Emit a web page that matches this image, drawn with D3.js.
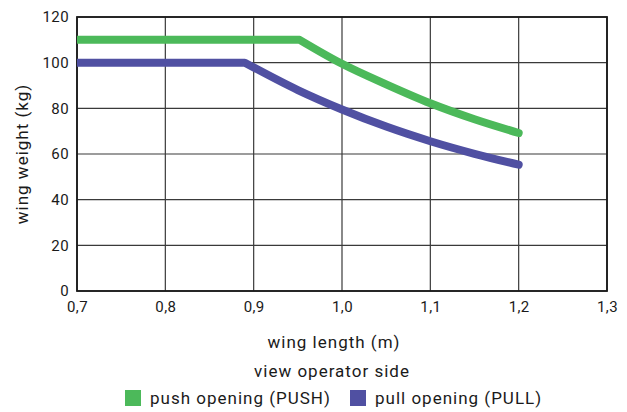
<!DOCTYPE html>
<html>
<head>
<meta charset="utf-8">
<script src="https://cdn.jsdelivr.net/npm/d3@7"></script>
<style>
  body { margin: 0; background: #fff; }
  text { font-family: Roboto, "DejaVu Sans", sans-serif; fill: #1a1a1a; }
  .title { font-size: 17px; letter-spacing: 1px; }
</style>
</head>
<body>
<svg width="627" height="412"></svg>
<script>
// values
var xTicks = [0.7, 0.8, 0.9, 1.0, 1.1, 1.2, 1.3];
var yTicks = [0, 20, 40, 60, 80, 100, 120];

var pushLength = [0.7, 0.952, 1.0, 1.05, 1.1, 1.15, 1.2];
var pushWeight = [110, 110, 99.5, 90.5, 82.2, 75.2, 69.2];

var pullLength = [0.7, 0.89, 0.95, 1.0, 1.05, 1.1, 1.15, 1.2];
var pullWeight = [100, 100, 88, 79.5, 72, 65.6, 60.1, 55.3];

var seriesNames = ["push opening (PUSH)", "pull opening (PULL)"];
var seriesColors = ["#4cb95a", "#5050a2"];

var svg = d3.select("svg"),
    margin = {top: 17, right: 20, bottom: 121, left: 77},
    width = +svg.attr("width") - margin.left - margin.right,
    height = +svg.attr("height") - margin.top - margin.bottom;

var x = d3.scaleLinear().domain([0.7, 1.3]).range([0, width]),
    y = d3.scaleLinear().domain([0, 120]).range([height, 0]);

var g = svg.append("g")
    .attr("transform", "translate(" + margin.left + "," + margin.top + ")");

g.append("clipPath")
    .attr("id", "plot")
  .append("rect")
    .attr("width", width)
    .attr("height", height);

// grid
g.selectAll(".vgrid")
  .data(xTicks)
  .enter().append("line")
    .attr("x1", function(d) { return x(d); })
    .attr("x2", function(d) { return x(d); })
    .attr("y1", 0)
    .attr("y2", height)
    .attr("stroke", "#3a3a3a")
    .attr("stroke-width", 1.2);

g.selectAll(".hgrid")
  .data(yTicks)
  .enter().append("line")
    .attr("x1", 0)
    .attr("x2", width)
    .attr("y1", function(d) { return y(d); })
    .attr("y2", function(d) { return y(d); })
    .attr("stroke", "#3a3a3a")
    .attr("stroke-width", 1.2);

g.append("rect")
    .attr("width", width)
    .attr("height", height)
    .attr("fill", "none")
    .attr("stroke", "#1a1a1a")
    .attr("stroke-width", 1.8);

// axes (labels only)
var fmt = function(d) { return d3.format(".1f")(d).replace(".", ","); };

g.append("g")
    .attr("transform", "translate(0," + height + ")")
    .call(d3.axisBottom(x).tickValues(xTicks).tickFormat(fmt).tickSize(0).tickPadding(10))
    .call(function(a) { a.select(".domain").remove(); })
    .selectAll("text")
      .style("font-size", "15px")
      .style("letter-spacing", "0.4px")
      .attr("fill", "#1a1a1a");

g.append("g")
    .call(d3.axisLeft(y).tickValues(yTicks).tickSize(0).tickPadding(8))
    .call(function(a) { a.select(".domain").remove(); })
    .selectAll("text")
      .style("font-size", "15px")
      .style("letter-spacing", "0.4px")
      .attr("fill", "#1a1a1a");

// lines: straight flat part, smooth curve after the kink
var flat = d3.line()
    .x(function(d) { return x(d[0]); })
    .y(function(d) { return y(d[1]); });
var smooth = d3.line()
    .x(function(d) { return x(d[0]); })
    .y(function(d) { return y(d[1]); })
    .curve(d3.curveMonotoneX);

function pathOf(pts) {
  return flat(pts.slice(0, 2)) + smooth(pts.slice(1)).replace(/^M/, "L");
}

var series = [d3.zip(pushLength, pushWeight), d3.zip(pullLength, pullWeight)];

g.append("g")
    .attr("clip-path", "url(#plot)")
  .selectAll(".series")
  .data(series)
  .enter().append("path")
    .attr("d", pathOf)
    .attr("fill", "none")
    .attr("stroke", function(d, i) { return seriesColors[i]; })
    .attr("stroke-width", 8)
    .attr("stroke-linecap", "round")
    .attr("stroke-linejoin", "round");

// titles
svg.append("text")
    .attr("class", "title")
    .attr("transform", "translate(28," + (margin.top + height / 2) + ") rotate(-90)")
    .attr("text-anchor", "middle")
    .text("wing weight (kg)");

svg.append("text")
    .attr("class", "title")
    .attr("x", 334)
    .attr("y", 348)
    .attr("text-anchor", "middle")
    .text("wing length (m)");

svg.append("text")
    .attr("class", "title")
    .attr("x", 332)
    .attr("y", 377)
    .attr("text-anchor", "middle")
    .text("view operator side");

// legend
var legendX = [125, 350];
var legend = svg.selectAll(".legend")
  .data(seriesNames)
  .enter().append("g")
    .attr("transform", function(d, i) { return "translate(" + legendX[i] + ",390)"; });

legend.append("rect")
    .attr("width", 16)
    .attr("height", 16)
    .attr("fill", function(d, i) { return seriesColors[i]; });

legend.append("text")
    .attr("class", "title")
    .attr("x", 25)
    .attr("y", 14)
    .text(function(d) { return d; });
</script>
</body>
</html>
